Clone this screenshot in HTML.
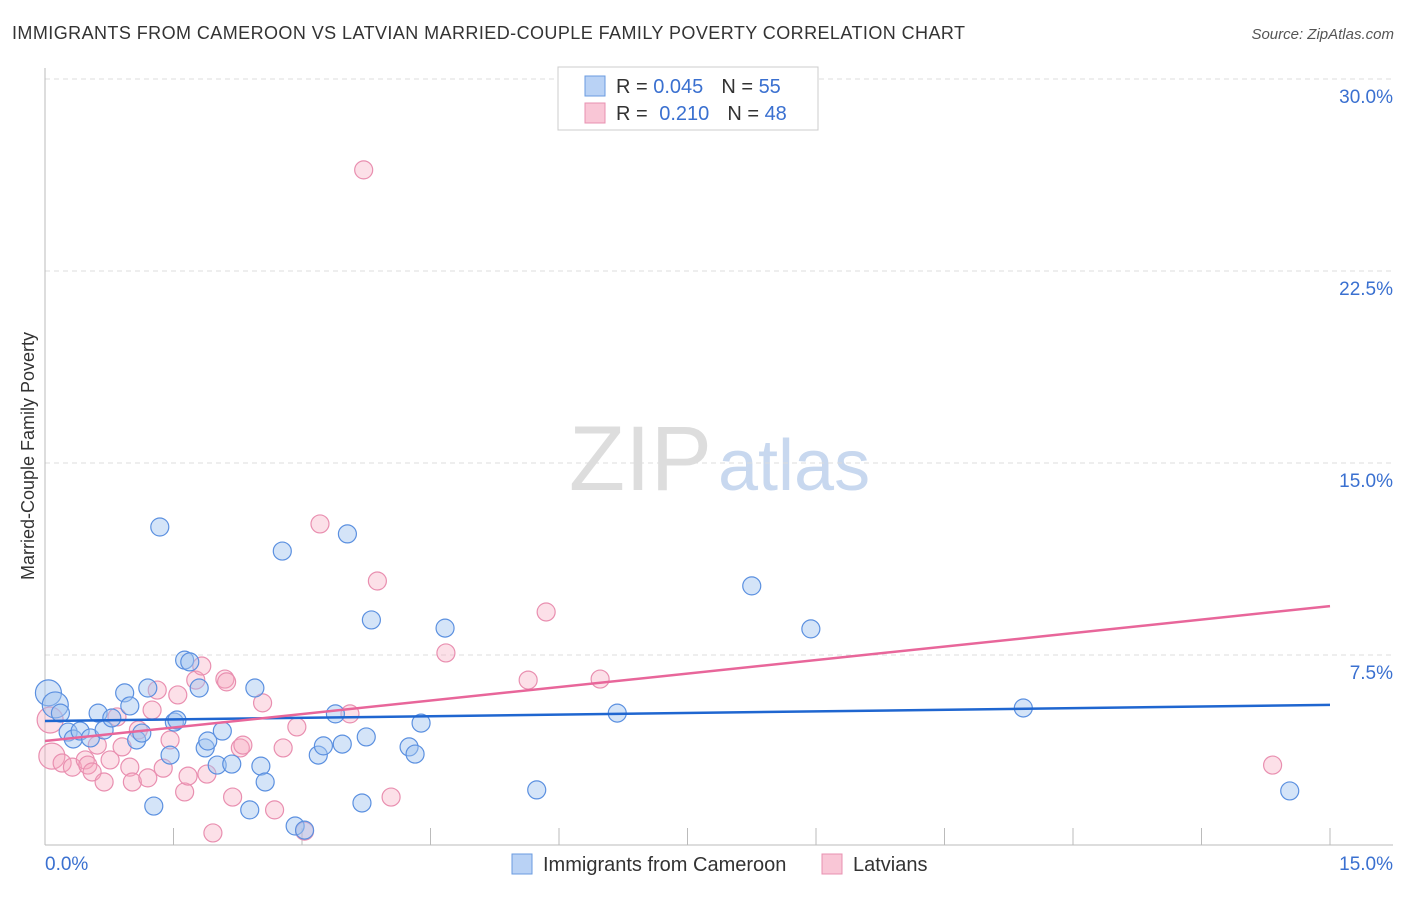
<!DOCTYPE html>
<html><head><meta charset="utf-8"><style>
body{margin:0;background:#fff;font-family:"Liberation Sans",sans-serif;}
svg text{font-family:"Liberation Sans",sans-serif;}
</style></head><body>
<svg width="1406" height="892" xmlns="http://www.w3.org/2000/svg">
<text x="12" y="39" font-size="18" fill="#333" textLength="953" lengthAdjust="spacing">IMMIGRANTS FROM CAMEROON VS LATVIAN MARRIED-COUPLE FAMILY POVERTY CORRELATION CHART</text>
<text x="1394" y="39" font-size="15" fill="#555" font-style="italic" text-anchor="end">Source: ZipAtlas.com</text>
<text x="712" y="490" font-size="92" fill="#ddd" font-family="Liberation Serif" text-anchor="end">ZIP</text>
<text x="718" y="490" font-size="72" fill="#c8d8ef">atlas</text>
<g id="grid"></g>
<line x1="45" y1="68" x2="45" y2="845" stroke="#bbb"/>
<line x1="45" y1="845" x2="1393" y2="845" stroke="#bbb"/>
<g id="ticks"></g>
<text transform="translate(34,456) rotate(-90)" font-size="18" fill="#333" text-anchor="middle">Married-Couple Family Poverty</text>
<text x="45" y="870" font-size="19" fill="#3a70d0">0.0%</text>
<text x="1393" y="870" font-size="19" fill="#3a70d0" text-anchor="end">15.0%</text>
<g id="pts"></g>
<g id="lines"></g>
<g>
<rect x="558" y="67" width="260" height="63" fill="#fff" stroke="#ccc"/>
<rect x="585" y="76" width="20" height="20" fill="#b9d2f5" stroke="#6a9be0"/>
<rect x="585" y="103" width="20" height="20" fill="#f9c6d6" stroke="#e890b0"/>
<text x="616" y="93" font-size="20" fill="#333">R = <tspan fill="#3a70d0">0.045</tspan><tspan dx="18">N = </tspan><tspan fill="#3a70d0">55</tspan></text>
<text x="616" y="120" font-size="20" fill="#333">R = <tspan fill="#3a70d0" dx="6">0.210</tspan><tspan dx="18">N = </tspan><tspan fill="#3a70d0">48</tspan></text>
</g>
<g>
<rect x="512" y="854" width="20" height="20" fill="#b9d2f5" stroke="#6a9be0"/>
<text x="543" y="871" font-size="20" fill="#333">Immigrants from Cameroon</text>
<rect x="822" y="854" width="20" height="20" fill="#f9c6d6" stroke="#e890b0"/>
<text x="853" y="871" font-size="20" fill="#333">Latvians</text>
</g>
</svg>
<script>
const yTicks=[7.5,15,22.5,30];
const yTickLabels=["7.5%","15.0%","22.5%","30.0%"];
const blueX=[0.04,0.12,0.18,0.27,0.33,0.41,0.53,0.62,0.69,0.78,0.93,0.99,1.07,1.13,1.20,1.27,1.34,1.46,1.51,1.54,1.63,1.69,1.80,1.87,1.90,2.01,2.07,2.18,2.39,2.45,2.52,2.57,2.77,2.92,3.03,3.19,3.25,3.39,3.47,3.53,3.70,3.75,3.81,4.25,4.32,4.39,4.67,5.74,6.68,8.25,8.94,11.42,14.53];
const blueY=[6.02,5.55,5.23,4.49,4.22,4.53,4.26,5.23,4.57,5.04,6.02,5.51,4.18,4.45,6.21,1.60,12.50,3.59,4.88,4.96,7.30,7.23,6.21,3.87,4.14,3.20,4.53,3.24,1.45,6.21,3.16,2.54,11.56,0.82,0.66,3.59,3.95,5.20,4.02,12.23,1.72,4.30,8.87,3.91,3.63,4.84,8.55,2.23,5.23,10.20,8.52,5.43,2.19];
const pinkX=[0.06,0.08,0.20,0.32,0.47,0.50,0.55,0.61,0.69,0.76,0.84,0.90,0.99,1.02,1.09,1.20,1.25,1.31,1.38,1.46,1.55,1.63,1.67,1.76,1.83,1.89,1.96,2.10,2.12,2.19,2.28,2.31,2.54,2.68,2.78,2.94,3.03,3.21,3.56,3.72,3.88,4.04,4.68,5.64,5.85,6.48,14.33];
const pinkY=[4.96,3.55,3.28,3.12,3.40,3.20,2.93,3.98,2.54,3.40,5.08,3.91,3.12,2.54,4.57,2.70,5.35,6.13,3.08,4.18,5.94,2.15,2.77,6.52,7.07,2.85,0.55,6.56,6.45,1.95,3.87,3.98,5.63,1.45,3.87,4.69,0.62,12.62,5.20,26.45,10.39,1.95,7.58,6.52,9.18,6.56,3.20];
const blueTrend=[4.92,5.55];
const pinkTrend=[4.14,9.41];
const xAxisTicks=[0,1.5,3,4.5,6,7.5,9,10.5,12,13.5,15];
const NS="http://www.w3.org/2000/svg";
const X=v=>45+v/15*1285, Y=v=>847-v*25.6;
function mk(t,a,p){const e=document.createElementNS(NS,t);for(const k in a)e.setAttribute(k,a[k]);p.appendChild(e);return e;}
const grid=document.getElementById('grid');
yTicks.forEach((v,i)=>{
 const l=mk('line',{x1:45,x2:1393,y1:Y(v),y2:Y(v),stroke:'#ddd','stroke-dasharray':'5,4'},grid);
 
 
 const t=mk('text',{x:1393,y:Y(v)+24,'font-size':19,fill:'#3a70d0','text-anchor':'end'},grid);
 t.textContent=yTickLabels[i];
 
 
});
mk('line',{x1:45,x2:1393,y1:79,y2:79,stroke:'#ddd','stroke-dasharray':'5,4'},grid);
const tk=document.getElementById('ticks');
xAxisTicks.forEach(v=>{
 const l=mk('line',{x1:X(v),x2:X(v),y1:828,y2:845,stroke:'#bbb'},tk);
 
 
});
const pts=document.getElementById('pts');
function draw(xs,ys,fill,stroke,name){
 xs.forEach((x,i)=>{
  const r=(x<0.15)?13:9;
  const c=mk('circle',{cx:X(x),cy:Y(ys[i]),r:r,fill:fill,stroke:stroke,'stroke-width':1.2},pts);
  
  
 });
}
draw(pinkX,pinkY,'rgba(245,165,190,0.35)','#e98fb0','latvian-point');
draw(blueX,blueY,'rgba(160,195,240,0.45)','#5b90e0','cameroon-point');
const ln=document.getElementById('lines');
const b=mk('line',{x1:X(0),y1:Y(blueTrend[0]),x2:X(15),y2:Y(blueTrend[1]),stroke:'#1f66d0','stroke-width':2.5},ln);


const p=mk('line',{x1:X(0),y1:Y(pinkTrend[0]),x2:X(15),y2:Y(pinkTrend[1]),stroke:'#e8669a','stroke-width':2.5},ln);


</script>
</body></html>
